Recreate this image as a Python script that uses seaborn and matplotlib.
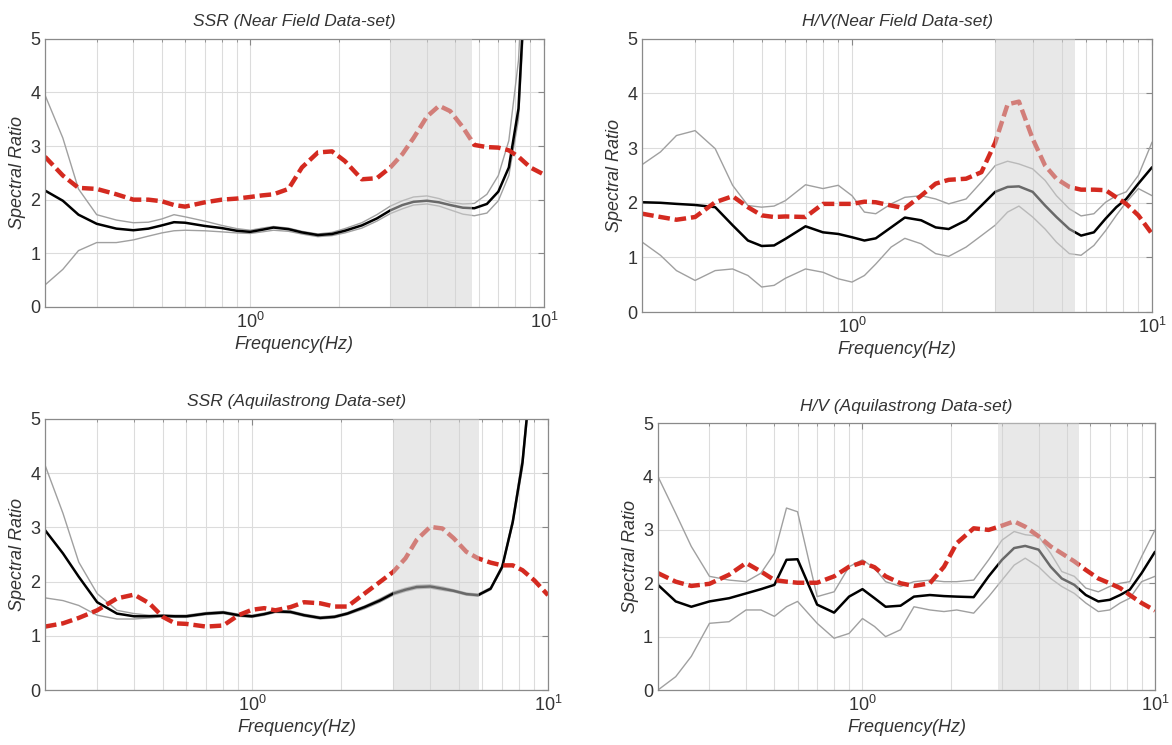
import numpy as np
import matplotlib
matplotlib.use("Agg")
import matplotlib.pyplot as plt
from matplotlib.ticker import LogLocator, NullFormatter, FixedLocator
import seaborn as sns

# common frequency grid (Hz)
freq = [0.2, 0.23, 0.26, 0.3, 0.35, 0.4, 0.45, 0.5, 0.55, 0.6, 0.7, 0.8, 0.9,
        1.0, 1.1, 1.2, 1.35, 1.5, 1.7, 1.9, 2.1, 2.4, 2.7, 3.0, 3.3, 3.6, 4.0,
        4.4, 4.8, 5.3, 5.8, 6.4, 7.0, 7.6, 8.2, 9.0, 10.0]

# SSR near field
ssr_nf_red = [2.8, 2.45, 2.22, 2.2, 2.1, 2.0, 2.0, 1.97, 1.9, 1.87, 1.95, 2.0, 2.02,
              2.05, 2.08, 2.1, 2.2, 2.6, 2.88, 2.9, 2.72, 2.38, 2.4, 2.6, 2.85, 3.15, 3.55,
              3.75, 3.65, 3.35, 3.02, 2.98, 2.97, 2.92, 2.8, 2.6, 2.47]
ssr_nf_med = [2.17, 1.98, 1.72, 1.55, 1.46, 1.43, 1.46, 1.52, 1.58, 1.57, 1.51, 1.47, 1.42,
              1.4, 1.44, 1.48, 1.45, 1.39, 1.34, 1.36, 1.42, 1.52, 1.65, 1.8, 1.9, 1.96, 1.98,
              1.95, 1.9, 1.85, 1.84, 1.92, 2.15, 2.6, 3.7, 8.0, 12.0]
ssr_nf_hi = [3.95, 3.15, 2.2, 1.72, 1.62, 1.57, 1.58, 1.64, 1.72, 1.68, 1.6, 1.52, 1.46,
             1.43, 1.47, 1.5, 1.47, 1.41, 1.36, 1.39, 1.46, 1.57, 1.72, 1.88, 1.98, 2.05, 2.07,
             2.02, 1.95, 1.92, 1.93, 2.1, 2.45, 3.1, 4.6, 9.0, 14.0]
ssr_nf_lo = [0.41, 0.7, 1.05, 1.2, 1.2, 1.25, 1.32, 1.38, 1.42, 1.43, 1.42, 1.4, 1.38,
             1.37, 1.4, 1.43, 1.41, 1.36, 1.31, 1.33, 1.38, 1.47, 1.6, 1.74, 1.83, 1.9, 1.92,
             1.88, 1.81, 1.73, 1.7, 1.75, 1.98, 2.45, 3.5, 7.5, 11.0]

# H/V near field
hv_nf_red = [1.8, 1.74, 1.69, 1.74, 2.01, 2.12, 1.92, 1.77, 1.74, 1.75, 1.74, 1.98, 1.98,
             1.98, 2.02, 2.01, 1.95, 1.9, 2.13, 2.35, 2.42, 2.44, 2.56, 3.1, 3.8, 3.85, 3.17,
             2.68, 2.44, 2.29, 2.24, 2.24, 2.23, 2.1, 1.98, 1.77, 1.43]
hv_nf_med = [2.01, 2.0, 1.98, 1.96, 1.92, 1.59, 1.31, 1.21, 1.22, 1.34, 1.57, 1.46, 1.43,
             1.37, 1.31, 1.35, 1.55, 1.73, 1.68, 1.55, 1.52, 1.68, 1.95, 2.2, 2.29, 2.3, 2.2,
             1.95, 1.74, 1.52, 1.4, 1.46, 1.71, 1.92, 2.07, 2.35, 2.65]
hv_nf_hi = [2.7, 2.93, 3.23, 3.32, 2.99, 2.32, 1.95, 1.92, 1.94, 2.04, 2.33, 2.26, 2.32,
            2.13, 1.83, 1.8, 1.98, 2.1, 2.13, 2.07, 1.98, 2.07, 2.38, 2.68, 2.76, 2.71, 2.62,
            2.41, 2.13, 1.89, 1.76, 1.8, 2.01, 2.13, 2.2, 2.5, 3.11]
hv_nf_lo = [1.28, 1.04, 0.76, 0.58, 0.76, 0.79, 0.67, 0.46, 0.49, 0.62, 0.79, 0.73, 0.61,
            0.55, 0.67, 0.88, 1.19, 1.35, 1.25, 1.07, 1.02, 1.19, 1.4, 1.59, 1.83, 1.94, 1.74,
            1.52, 1.28, 1.07, 1.04, 1.22, 1.49, 1.77, 2.01, 2.26, 2.13]

# SSR Aquilastrong
ssr_aq_red = [1.17, 1.23, 1.33, 1.47, 1.69, 1.76, 1.6, 1.35, 1.23, 1.22, 1.17, 1.19, 1.38,
              1.48, 1.51, 1.47, 1.53, 1.62, 1.6, 1.54, 1.54, 1.78, 1.99, 2.18, 2.43, 2.77, 3.01,
              2.98, 2.8, 2.55, 2.43, 2.35, 2.3, 2.3, 2.21, 2.02, 1.75]
ssr_aq_med = [2.95, 2.52, 2.09, 1.62, 1.41, 1.36, 1.36, 1.37, 1.36, 1.36, 1.41, 1.43, 1.38,
              1.36, 1.4, 1.45, 1.44, 1.38, 1.33, 1.35, 1.41, 1.53, 1.65, 1.78, 1.85, 1.9, 1.91,
              1.87, 1.83, 1.77, 1.75, 1.87, 2.27, 3.1, 4.2, 6.5, 10.0]
ssr_aq_hi = [4.15, 3.26, 2.36, 1.78, 1.47, 1.41, 1.38, 1.38, 1.38, 1.38, 1.43, 1.45, 1.4,
             1.38, 1.42, 1.47, 1.46, 1.4, 1.35, 1.37, 1.43, 1.55, 1.68, 1.81, 1.88, 1.93, 1.94,
             1.9, 1.85, 1.79, 1.77, 1.89, 2.3, 3.15, 4.3, 6.6, 10.0]
ssr_aq_lo = [1.7, 1.65, 1.56, 1.38, 1.31, 1.31, 1.33, 1.35, 1.34, 1.34, 1.39, 1.41, 1.36,
             1.34, 1.38, 1.43, 1.42, 1.36, 1.31, 1.33, 1.39, 1.5, 1.62, 1.75, 1.82, 1.87, 1.88,
             1.84, 1.81, 1.75, 1.73, 1.85, 2.24, 3.05, 4.1, 6.4, 10.0]

# H/V Aquilastrong
hv_aq_red = [2.19, 2.03, 1.95, 1.99, 2.16, 2.38, 2.22, 2.06, 2.03, 2.01, 2.01, 2.13, 2.31,
             2.39, 2.3, 2.13, 2.0, 1.95, 2.0, 2.31, 2.75, 3.03, 3.0, 3.08, 3.16, 3.06, 2.88,
             2.69, 2.56, 2.41, 2.25, 2.09, 2.0, 1.91, 1.78, 1.63, 1.49]
hv_aq_med = [1.97, 1.66, 1.56, 1.66, 1.72, 1.81, 1.89, 1.97, 2.44, 2.45, 1.6, 1.45, 1.75,
             1.89, 1.72, 1.56, 1.58, 1.75, 1.78, 1.76, 1.75, 1.74, 2.13, 2.44, 2.66, 2.7, 2.63,
             2.31, 2.09, 1.97, 1.78, 1.66, 1.69, 1.78, 1.88, 2.19, 2.59]
hv_aq_hi = [4.0, 3.31, 2.69, 2.13, 2.06, 2.03, 2.19, 2.56, 3.41, 3.34, 1.75, 1.84, 2.31,
            2.44, 2.28, 2.03, 1.94, 2.03, 2.06, 2.03, 2.03, 2.06, 2.44, 2.81, 2.97, 2.91, 2.88,
            2.56, 2.22, 2.13, 1.91, 1.84, 1.94, 2.0, 2.03, 2.5, 3.0]
hv_aq_lo = [0.0, 0.25, 0.63, 1.25, 1.28, 1.5, 1.5, 1.38, 1.56, 1.66, 1.25, 0.97, 1.06,
            1.34, 1.19, 1.0, 1.13, 1.56, 1.5, 1.47, 1.5, 1.44, 1.75, 2.06, 2.34, 2.47, 2.31,
            2.09, 1.94, 1.81, 1.63, 1.47, 1.5, 1.63, 1.72, 2.03, 2.13]

titles = ["SSR (Near Field Data-set)", "H/V(Near Field Data-set)",
          "SSR (Aquilastrong Data-set)", "H/V (Aquilastrong Data-set)"]
shade = [(3.0, 5.7), (3.0, 5.55), (3.0, 5.85), (2.9, 5.5)]
panels = [(ssr_nf_red, ssr_nf_med, ssr_nf_hi, ssr_nf_lo),
          (hv_nf_red, hv_nf_med, hv_nf_hi, hv_nf_lo),
          (ssr_aq_red, ssr_aq_med, ssr_aq_hi, ssr_aq_lo),
          (hv_aq_red, hv_aq_med, hv_aq_hi, hv_aq_lo)]

sns.set_style("white")
plt.rcParams['font.family'] = ['Liberation Sans', 'DejaVu Sans']

fig = plt.figure(figsize=(11.72, 7.45), dpi=100)
boxes = [[0.0384, 0.588, 0.4256, 0.360],
         [0.548, 0.581, 0.435, 0.367],
         [0.0384, 0.0738, 0.4292, 0.3638],
         [0.5614, 0.0738, 0.4241, 0.3582]]

txt = '#333333'
for i in range(4):
    ax = fig.add_axes(boxes[i])
    red, med, hi, lo = panels[i]
    sns.lineplot(x=freq, y=hi, ax=ax, color='#a0a0a0', lw=1.0, estimator=None, zorder=2)
    sns.lineplot(x=freq, y=lo, ax=ax, color='#a0a0a0', lw=1.0, estimator=None, zorder=2)
    sns.lineplot(x=freq, y=med, ax=ax, color='black', lw=1.8, estimator=None, zorder=2.2)
    ax.plot(freq, red, color='#d42a20', lw=3.2, ls=(0, (2.6, 1.1)), zorder=2.4)
    ax.axvspan(shade[i][0], shade[i][1], color='#d2d2d2', alpha=0.5, lw=0, zorder=3)

    ax.set_xscale('log')
    ax.set_xlim(0.2, 10)
    ax.set_ylim(0, 5)
    ax.xaxis.set_major_locator(FixedLocator([1, 10]))
    ax.xaxis.set_minor_locator(LogLocator(base=10, subs=np.arange(2, 10)))
    ax.xaxis.set_minor_formatter(NullFormatter())
    ax.set_yticks([0, 1, 2, 3, 4, 5])
    ax.grid(True, which='both', axis='x', color='#dcdcdc', lw=0.8)
    ax.grid(True, which='major', axis='y', color='#dcdcdc', lw=0.8)
    ax.tick_params(which='both', direction='in', top=True, right=True,
                   colors='#888888', labelcolor=txt, labelsize=13)
    ax.tick_params(which='major', length=4)
    ax.tick_params(which='minor', length=2.5)
    for s in ax.spines.values():
        s.set_color('#8a8a8a')
        s.set_linewidth(0.9)
    ax.set_title(titles[i], style='italic', fontsize=12.5, color=txt, pad=9)
    ax.set_xlabel('Frequency(Hz)', style='italic', fontsize=13, color=txt, labelpad=3)
    ax.set_ylabel('Spectral Ratio', style='italic', fontsize=13, color=txt, labelpad=3)

fig.savefig('out.png', dpi=100)
